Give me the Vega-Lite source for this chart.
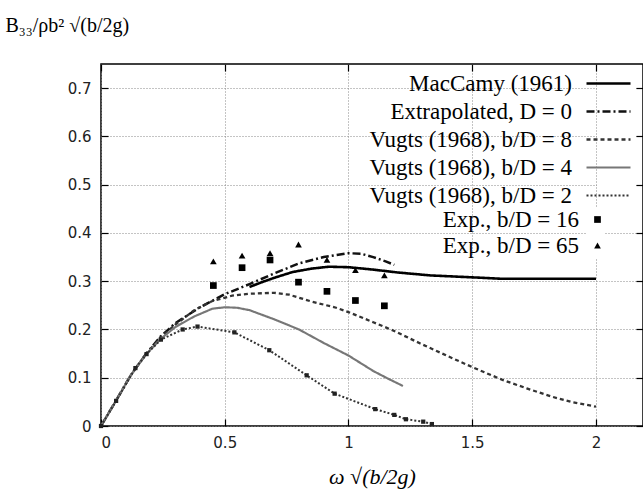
{
  "$schema": "https://vega.github.io/schema/vega-lite/v6.json",
  "width": 542,
  "height": 362,
  "autosize": {"type": "none"},
  "padding": {"left": 101, "top": 64, "right": 0, "bottom": 74},
  "background": "white",
  "config": {
    "view": {"stroke": "black", "strokeWidth": 1.5},
    "axis": {
      "domain": false,
      "gridColor": "#888",
      "gridDash": [1, 2],
      "gridWidth": 1,
      "tickColor": "black",
      "tickSize": -7,
      "tickWidth": 1.2,
      "labelFont": "DejaVu Sans",
      "labelFontSize": 15,
      "labelColor": "#222",
      "titleFont": "Liberation Serif",
      "titleFontWeight": "normal",
      "titleColor": "black"
    }
  },
  "data": {
    "values": [
      {"series": "MacCamy (1961)", "x": 0.6, "y": 0.288},
      {"series": "MacCamy (1961)", "x": 0.65, "y": 0.298},
      {"series": "MacCamy (1961)", "x": 0.7, "y": 0.307},
      {"series": "MacCamy (1961)", "x": 0.774, "y": 0.319},
      {"series": "MacCamy (1961)", "x": 0.85, "y": 0.326},
      {"series": "MacCamy (1961)", "x": 0.92, "y": 0.33},
      {"series": "MacCamy (1961)", "x": 1.0, "y": 0.329},
      {"series": "MacCamy (1961)", "x": 1.1, "y": 0.324},
      {"series": "MacCamy (1961)", "x": 1.2, "y": 0.318},
      {"series": "MacCamy (1961)", "x": 1.33, "y": 0.312},
      {"series": "MacCamy (1961)", "x": 1.5, "y": 0.308},
      {"series": "MacCamy (1961)", "x": 1.62, "y": 0.305},
      {"series": "MacCamy (1961)", "x": 1.8, "y": 0.305},
      {"series": "MacCamy (1961)", "x": 2.0, "y": 0.305},

      {"series": "Extrapolated, D = 0", "x": 0.0, "y": 0.0},
      {"series": "Extrapolated, D = 0", "x": 0.06, "y": 0.052},
      {"series": "Extrapolated, D = 0", "x": 0.12, "y": 0.105},
      {"series": "Extrapolated, D = 0", "x": 0.18, "y": 0.148},
      {"series": "Extrapolated, D = 0", "x": 0.24, "y": 0.185},
      {"series": "Extrapolated, D = 0", "x": 0.3, "y": 0.213},
      {"series": "Extrapolated, D = 0", "x": 0.4, "y": 0.246},
      {"series": "Extrapolated, D = 0", "x": 0.5, "y": 0.273},
      {"series": "Extrapolated, D = 0", "x": 0.6, "y": 0.294},
      {"series": "Extrapolated, D = 0", "x": 0.7, "y": 0.316},
      {"series": "Extrapolated, D = 0", "x": 0.8, "y": 0.337},
      {"series": "Extrapolated, D = 0", "x": 0.9, "y": 0.35},
      {"series": "Extrapolated, D = 0", "x": 1.0, "y": 0.358},
      {"series": "Extrapolated, D = 0", "x": 1.05, "y": 0.357},
      {"series": "Extrapolated, D = 0", "x": 1.1, "y": 0.35},
      {"series": "Extrapolated, D = 0", "x": 1.15, "y": 0.341},
      {"series": "Extrapolated, D = 0", "x": 1.185, "y": 0.334},

      {"series": "Vugts (1968), b/D = 8", "x": 0.0, "y": 0.0},
      {"series": "Vugts (1968), b/D = 8", "x": 0.06, "y": 0.052},
      {"series": "Vugts (1968), b/D = 8", "x": 0.12, "y": 0.105},
      {"series": "Vugts (1968), b/D = 8", "x": 0.18, "y": 0.148},
      {"series": "Vugts (1968), b/D = 8", "x": 0.24, "y": 0.183},
      {"series": "Vugts (1968), b/D = 8", "x": 0.3, "y": 0.21},
      {"series": "Vugts (1968), b/D = 8", "x": 0.377, "y": 0.24},
      {"series": "Vugts (1968), b/D = 8", "x": 0.45, "y": 0.259},
      {"series": "Vugts (1968), b/D = 8", "x": 0.53, "y": 0.27},
      {"series": "Vugts (1968), b/D = 8", "x": 0.6, "y": 0.274},
      {"series": "Vugts (1968), b/D = 8", "x": 0.7, "y": 0.276},
      {"series": "Vugts (1968), b/D = 8", "x": 0.76, "y": 0.272},
      {"series": "Vugts (1968), b/D = 8", "x": 0.85, "y": 0.258},
      {"series": "Vugts (1968), b/D = 8", "x": 0.95, "y": 0.245},
      {"series": "Vugts (1968), b/D = 8", "x": 1.0, "y": 0.236},
      {"series": "Vugts (1968), b/D = 8", "x": 1.1, "y": 0.215},
      {"series": "Vugts (1968), b/D = 8", "x": 1.18, "y": 0.198},
      {"series": "Vugts (1968), b/D = 8", "x": 1.29, "y": 0.171},
      {"series": "Vugts (1968), b/D = 8", "x": 1.4, "y": 0.145},
      {"series": "Vugts (1968), b/D = 8", "x": 1.5, "y": 0.122},
      {"series": "Vugts (1968), b/D = 8", "x": 1.62, "y": 0.096},
      {"series": "Vugts (1968), b/D = 8", "x": 1.72, "y": 0.078},
      {"series": "Vugts (1968), b/D = 8", "x": 1.82, "y": 0.061},
      {"series": "Vugts (1968), b/D = 8", "x": 1.9, "y": 0.05},
      {"series": "Vugts (1968), b/D = 8", "x": 2.0, "y": 0.04},

      {"series": "Vugts (1968), b/D = 4", "x": 0.0, "y": 0.0},
      {"series": "Vugts (1968), b/D = 4", "x": 0.06, "y": 0.052},
      {"series": "Vugts (1968), b/D = 4", "x": 0.12, "y": 0.105},
      {"series": "Vugts (1968), b/D = 4", "x": 0.18, "y": 0.147},
      {"series": "Vugts (1968), b/D = 4", "x": 0.24, "y": 0.18},
      {"series": "Vugts (1968), b/D = 4", "x": 0.3, "y": 0.205},
      {"series": "Vugts (1968), b/D = 4", "x": 0.377, "y": 0.227},
      {"series": "Vugts (1968), b/D = 4", "x": 0.45, "y": 0.243},
      {"series": "Vugts (1968), b/D = 4", "x": 0.5, "y": 0.246},
      {"series": "Vugts (1968), b/D = 4", "x": 0.55, "y": 0.245},
      {"series": "Vugts (1968), b/D = 4", "x": 0.6, "y": 0.24},
      {"series": "Vugts (1968), b/D = 4", "x": 0.7, "y": 0.221},
      {"series": "Vugts (1968), b/D = 4", "x": 0.8, "y": 0.2},
      {"series": "Vugts (1968), b/D = 4", "x": 0.9, "y": 0.172},
      {"series": "Vugts (1968), b/D = 4", "x": 1.0, "y": 0.146},
      {"series": "Vugts (1968), b/D = 4", "x": 1.1, "y": 0.114},
      {"series": "Vugts (1968), b/D = 4", "x": 1.16, "y": 0.098},
      {"series": "Vugts (1968), b/D = 4", "x": 1.22, "y": 0.083},

      {"series": "Vugts (1968), b/D = 2", "x": 0.0, "y": 0.0},
      {"series": "Vugts (1968), b/D = 2", "x": 0.061, "y": 0.052},
      {"series": "Vugts (1968), b/D = 2", "x": 0.139, "y": 0.12},
      {"series": "Vugts (1968), b/D = 2", "x": 0.184, "y": 0.149},
      {"series": "Vugts (1968), b/D = 2", "x": 0.242, "y": 0.179},
      {"series": "Vugts (1968), b/D = 2", "x": 0.33, "y": 0.2},
      {"series": "Vugts (1968), b/D = 2", "x": 0.39, "y": 0.206},
      {"series": "Vugts (1968), b/D = 2", "x": 0.539, "y": 0.194},
      {"series": "Vugts (1968), b/D = 2", "x": 0.68, "y": 0.157},
      {"series": "Vugts (1968), b/D = 2", "x": 0.831, "y": 0.105},
      {"series": "Vugts (1968), b/D = 2", "x": 0.944, "y": 0.067},
      {"series": "Vugts (1968), b/D = 2", "x": 1.108, "y": 0.035},
      {"series": "Vugts (1968), b/D = 2", "x": 1.185, "y": 0.023},
      {"series": "Vugts (1968), b/D = 2", "x": 1.232, "y": 0.014},
      {"series": "Vugts (1968), b/D = 2", "x": 1.302, "y": 0.009},
      {"series": "Vugts (1968), b/D = 2", "x": 1.337, "y": 0.004},

      {"series": "Exp., b/D = 16", "x": 0.454, "y": 0.291},
      {"series": "Exp., b/D = 16", "x": 0.57, "y": 0.328},
      {"series": "Exp., b/D = 16", "x": 0.683, "y": 0.344},
      {"series": "Exp., b/D = 16", "x": 0.798, "y": 0.298},
      {"series": "Exp., b/D = 16", "x": 0.913, "y": 0.279},
      {"series": "Exp., b/D = 16", "x": 1.028, "y": 0.26},
      {"series": "Exp., b/D = 16", "x": 1.145, "y": 0.249},

      {"series": "Exp., b/D = 65", "x": 0.454, "y": 0.341},
      {"series": "Exp., b/D = 65", "x": 0.57, "y": 0.353},
      {"series": "Exp., b/D = 65", "x": 0.683, "y": 0.358},
      {"series": "Exp., b/D = 65", "x": 0.798, "y": 0.376},
      {"series": "Exp., b/D = 65", "x": 0.913, "y": 0.344},
      {"series": "Exp., b/D = 65", "x": 1.028, "y": 0.323},
      {"series": "Exp., b/D = 65", "x": 1.145, "y": 0.312}
    ]
  },
  "layer": [
    {
      "transform": [{"filter": {"field": "series", "oneOf": ["MacCamy (1961)", "Extrapolated, D = 0", "Vugts (1968), b/D = 8", "Vugts (1968), b/D = 4", "Vugts (1968), b/D = 2"]}}],
      "mark": {"type": "line", "clip": true},
      "encoding": {
        "x": {
          "field": "x", "type": "quantitative",
          "scale": {"domain": [0, 2.19], "nice": false, "zero": false},
          "axis": {"orient": "bottom", "values": [0, 0.5, 1, 1.5, 2], "format": "~g", "labelPadding": 16, "title": "ω √(b/2g)", "titleFontSize": 22, "titleFontStyle": "italic", "titleX": 271, "titleY": 50, "titleBaseline": "middle"}
        },
        "y": {
          "field": "y", "type": "quantitative",
          "scale": {"domain": [0, 0.75], "nice": false, "zero": false},
          "axis": {"orient": "left", "values": [0, 0.1, 0.2, 0.3, 0.4, 0.5, 0.6, 0.7], "format": "~g", "labelPadding": 17, "title": "B₃₃/ρb² √(b/2g)", "titleFontSize": 20, "titleAngle": 0, "titleAlign": "left", "titleBaseline": "middle", "titleX": -96, "titleY": -39}
        },
        "color": {
          "field": "series", "type": "nominal",
          "scale": {"domain": ["MacCamy (1961)", "Extrapolated, D = 0", "Vugts (1968), b/D = 8", "Vugts (1968), b/D = 4", "Vugts (1968), b/D = 2"], "range": ["#000000", "#111111", "#333333", "#777777", "#333333"]},
          "legend": {"orient": "none", "legendX": 496, "legendY": 8, "title": null, "symbolType": "M-4,0H4", "symbolSize": 121, "labelAlign": "right", "labelOffset": -48, "labelExpr": "datum.label == 'MacCamy (1961)' ? datum.label + '\u00a0\u00a0\u00a0\u00a0\u00a0\u00a0\u00a0' : (datum.label == 'Extrapolated, D = 0' ? datum.label + '\u00a0' : datum.label)", "labelFont": "Liberation Serif", "labelFontSize": 23, "labelColor": "black", "labelLimit": 0, "rowPadding": 4, "padding": 0, "fillColor": "white"}
        },
        "strokeDash": {
          "field": "series", "type": "nominal",
          "scale": {"domain": ["MacCamy (1961)", "Extrapolated, D = 0", "Vugts (1968), b/D = 8", "Vugts (1968), b/D = 4", "Vugts (1968), b/D = 2"], "range": [[1, 0], [8, 3, 2, 3], [4, 3], [1, 0], [2, 2]]},
          "legend": {"orient": "none", "legendX": 496, "legendY": 8, "title": null, "symbolType": "M-4,0H4", "symbolSize": 121, "labelAlign": "right", "labelOffset": -48, "labelExpr": "datum.label == 'MacCamy (1961)' ? datum.label + '\u00a0\u00a0\u00a0\u00a0\u00a0\u00a0\u00a0' : (datum.label == 'Extrapolated, D = 0' ? datum.label + '\u00a0' : datum.label)", "labelFont": "Liberation Serif", "labelFontSize": 23, "labelColor": "black", "labelLimit": 0, "rowPadding": 4, "padding": 0, "fillColor": "white"}
        },
        "strokeWidth": {
          "field": "series", "type": "nominal",
          "scale": {"domain": ["MacCamy (1961)", "Extrapolated, D = 0", "Vugts (1968), b/D = 8", "Vugts (1968), b/D = 4", "Vugts (1968), b/D = 2"], "range": [2.6, 2.0, 1.4, 1.3, 1.4]},
          "legend": {"orient": "none", "legendX": 496, "legendY": 8, "title": null, "symbolType": "M-4,0H4", "symbolSize": 121, "labelAlign": "right", "labelOffset": -48, "labelExpr": "datum.label == 'MacCamy (1961)' ? datum.label + '\u00a0\u00a0\u00a0\u00a0\u00a0\u00a0\u00a0' : (datum.label == 'Extrapolated, D = 0' ? datum.label + '\u00a0' : datum.label)", "labelFont": "Liberation Serif", "labelFontSize": 23, "labelColor": "black", "labelLimit": 0, "rowPadding": 4, "padding": 0, "fillColor": "white"}
        }
      }
    },
    {
      "transform": [{"filter": {"field": "series", "equal": "Vugts (1968), b/D = 2"}}],
      "mark": {"type": "point", "shape": "square", "filled": true, "size": 18, "color": "#222", "opacity": 1},
      "encoding": {
        "x": {"field": "x", "type": "quantitative", "axis": null},
        "y": {"field": "y", "type": "quantitative", "axis": null}
      }
    },
    {
      "transform": [{"filter": {"field": "series", "oneOf": ["Exp., b/D = 16", "Exp., b/D = 65"]}}],
      "mark": {"type": "point", "filled": true, "size": 45, "color": "black", "opacity": 1},
      "encoding": {
        "x": {"field": "x", "type": "quantitative", "axis": {"orient": "top", "values": [0, 0.5, 1, 1.5, 2], "labels": false, "grid": false, "title": null}},
        "y": {"field": "y", "type": "quantitative", "axis": {"orient": "right", "values": [0, 0.1, 0.2, 0.3, 0.4, 0.5, 0.6, 0.7], "labels": false, "grid": false, "title": null}},
        "shape": {
          "field": "series", "type": "nominal",
          "scale": {"domain": ["Exp., b/D = 16", "Exp., b/D = 65"], "range": ["square", "triangle-up"]},
          "legend": {"orient": "none", "legendX": 485, "legendY": 144, "title": null, "symbolSize": 45, "symbolFillColor": "black", "symbolStrokeColor": "black", "labelAlign": "right", "labelOffset": -30, "labelFont": "Liberation Serif", "labelFontSize": 23, "labelColor": "black", "labelLimit": 0, "rowPadding": 2, "padding": 0, "fillColor": "white"}
        }
      }
    }
  ],
  "resolve": {"axis": {"x": "independent", "y": "independent"}}
}
